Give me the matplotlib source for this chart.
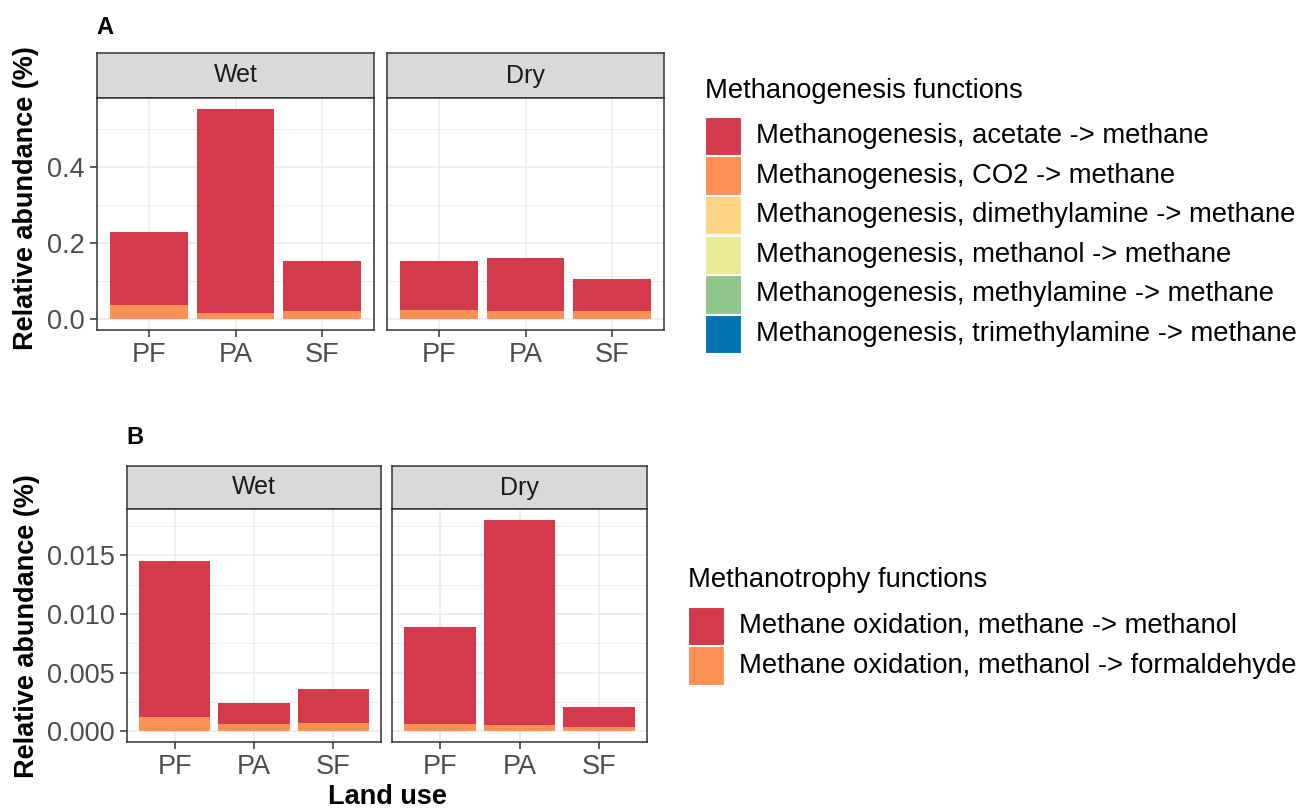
import matplotlib
matplotlib.use("Agg")
import matplotlib.pyplot as plt
import numpy as np
from matplotlib.patches import Rectangle

plt.rcParams['font.family'] = ['Liberation Sans', 'DejaVu Sans']

W, H = 1298, 809

land_use = ["PF", "PA", "SF"]
seasons = ["Wet", "Dry"]

# Methanogenesis (panel A), stacked bottom -> top is reverse of legend order
mg_functions = [
    "Methanogenesis, acetate -> methane",
    "Methanogenesis, CO2 -> methane",
    "Methanogenesis, dimethylamine -> methane",
    "Methanogenesis, methanol -> methane",
    "Methanogenesis, methylamine -> methane",
    "Methanogenesis, trimethylamine -> methane",
]
mg_colors = ["#D33A4B", "#FD9155", "#FED585", "#ECEB97", "#8FC68E", "#0074B3"]
mg_wet = {
    "acetate":        [0.194, 0.539, 0.130],
    "CO2":            [0.035, 0.014, 0.022],
    "dimethylamine":  [0.0015, 0.0003, 0.0008],
    "methanol":       [0.0003, 0.0002, 0.0002],
    "methylamine":    [0.0002, 0.0002, 0.0001],
    "trimethylamine": [0.0003, 0.0012, 0.0002],
}
mg_dry = {
    "acetate":        [0.128, 0.140, 0.084],
    "CO2":            [0.024, 0.021, 0.021],
    "dimethylamine":  [0.0008, 0.0004, 0.0006],
    "methanol":       [0.0002, 0.0002, 0.0002],
    "methylamine":    [0.0001, 0.0002, 0.0001],
    "trimethylamine": [0.0002, 0.0006, 0.0002],
}

# Methanotrophy (panel B)
mt_functions = [
    "Methane oxidation, methane -> methanol",
    "Methane oxidation, methanol -> formaldehyde",
]
mt_colors = ["#D33A4B", "#FD9155"]
mt_wet = {
    "methane":  [0.01332, 0.00176, 0.00296],
    "methanol": [0.00119, 0.00063, 0.00068],
}
mt_dry = {
    "methane":  [0.00827, 0.01755, 0.00176],
    "methanol": [0.00066, 0.00051, 0.00034],
}

TICK_COLOR = "#333333"
LABEL_COLOR = "#4D4D4D"
GRID_COLOR = "#EBEBEB"
LEGEND_SIZE = 19.7

fig = plt.figure(figsize=(W / 100, H / 100), dpi=100)


def px_axes(x0, y0, x1, y1):
    return fig.add_axes([x0 / W, 1 - y1 / H, (x1 - x0) / W, (y1 - y0) / H])


def draw_strip(x0, y0, x1, y1, label):
    s = px_axes(x0, y0, x1, y1)
    s.set_xticks([])
    s.set_yticks([])
    s.set_facecolor("#D9D9D9")
    for sp in s.spines.values():
        sp.set_color(TICK_COLOR)
        sp.set_linewidth(1.1)
    s.text(0.5, 0.5, label, ha="center", va="center", fontsize=18,
           color="#1A1A1A", transform=s.transAxes)


def draw_panel(x0, y0, x1, y1, series, colors, ymax, major, minor,
               fmt, show_y):
    ax = px_axes(x0, y0, x1, y1)
    x = np.arange(1, len(land_use) + 1)
    bottom = np.zeros(len(land_use))
    # stack from the last function up to the first
    for vals, col in list(zip(series, colors))[::-1]:
        vals = np.asarray(vals)
        ax.bar(x, vals, width=0.9, bottom=bottom, color=col,
               edgecolor="none", zorder=3)
        bottom += vals
    ax.set_xlim(0.4, len(land_use) + 0.6)
    ax.set_ylim(-0.05 * ymax, 1.05 * ymax)
    ax.set_xticks(x)
    ax.set_xticklabels(land_use)
    ax.set_yticks(major)
    ax.set_yticks(minor, minor=True)
    ax.yaxis.grid(True, which="major", color=GRID_COLOR, lw=1.1, zorder=0)
    ax.yaxis.grid(True, which="minor", color=GRID_COLOR, lw=0.6, zorder=0)
    ax.xaxis.grid(True, which="major", color=GRID_COLOR, lw=1.1, zorder=0)
    ax.set_axisbelow(True)
    ax.tick_params(axis="both", which="major", length=5, width=1.1,
                   color=TICK_COLOR, labelcolor=LABEL_COLOR, labelsize=19.5,
                   pad=4)
    ax.tick_params(axis="y", which="minor", length=0)
    if show_y:
        ax.set_yticklabels([fmt.format(v) for v in major])
    else:
        ax.tick_params(axis="y", which="major", length=0, labelleft=False)
    for sp in ax.spines.values():
        sp.set_color(TICK_COLOR)
        sp.set_linewidth(1.1)
    return ax


def stack(d):
    return [d[k] for k in d]


# ---- Panel A ----
a_top = max(np.sum(stack(mg_wet), axis=0).max(), np.sum(stack(mg_dry), axis=0).max())
a_major = [0.0, 0.2, 0.4]
a_minor = [0.1, 0.3, 0.5]
draw_strip(97, 53, 374, 98, "Wet")
draw_strip(387, 53, 664, 98, "Dry")
draw_panel(97, 98, 374, 330, stack(mg_wet), mg_colors, a_top, a_major,
           a_minor, "{:.1f}", True)
draw_panel(387, 98, 664, 330, stack(mg_dry), mg_colors, a_top, a_major,
           a_minor, "{:.1f}", False)

# ---- Panel B ----
b_top = max(np.sum(stack(mt_wet), axis=0).max(), np.sum(stack(mt_dry), axis=0).max())
b_major = [0.0, 0.005, 0.010, 0.015]
b_minor = [0.0025, 0.0075, 0.0125, 0.0175]
draw_strip(127, 466, 381, 509, "Wet")
draw_strip(392, 466, 647, 509, "Dry")
draw_panel(127, 509, 381, 742, stack(mt_wet), mt_colors, b_top, b_major,
           b_minor, "{:.3f}", True)
draw_panel(392, 509, 647, 742, stack(mt_dry), mt_colors, b_top, b_major,
           b_minor, "{:.3f}", False)

# ---- Titles / axis labels ----
fig.text(96 / W, 1 - 27 / H, "A", fontsize=17, fontweight="bold",
         ha="left", va="center")
fig.text(126 / W, 1 - 437 / H, "B", fontsize=17, fontweight="bold",
         ha="left", va="center")
fig.text(26 / W, 1 - 198 / H, "Relative abundance (%)", rotation=90,
         fontsize=19.5, fontweight="bold", ha="center", va="center")
fig.text(27 / W, 1 - 626 / H, "Relative abundance (%)", rotation=90,
         fontsize=19.5, fontweight="bold", ha="center", va="center")
fig.text(387 / W, 1 - 797 / H, "Land use", fontsize=19.5, fontweight="bold",
         ha="center", va="center")


# ---- Legends ----
def draw_legend(title, labels, colors, x_key, y_title, y_first, step,
                key_w, key_h, x_text):
    fig.text(x_key / W, 1 - y_title / H, title, fontsize=LEGEND_SIZE,
             ha="left", va="center")
    for i, (lab, col) in enumerate(zip(labels, colors)):
        yc = y_first + i * step
        fig.patches.append(Rectangle(
            (x_key / W, 1 - (yc + key_h / 2) / H), key_w / W, key_h / H,
            transform=fig.transFigure, facecolor=col, edgecolor="white",
            linewidth=0.8))
        fig.text(x_text / W, 1 - yc / H, lab, fontsize=LEGEND_SIZE,
                 ha="left", va="center")


draw_legend("Methanogenesis functions", mg_functions, mg_colors,
            705, 91, 136, 39.6, 36, 38.5, 756)
draw_legend("Methanotrophy functions", mt_functions, mt_colors,
            688, 580, 626, 39.6, 36, 38.5, 739)

fig.savefig("out.png", dpi=100)
